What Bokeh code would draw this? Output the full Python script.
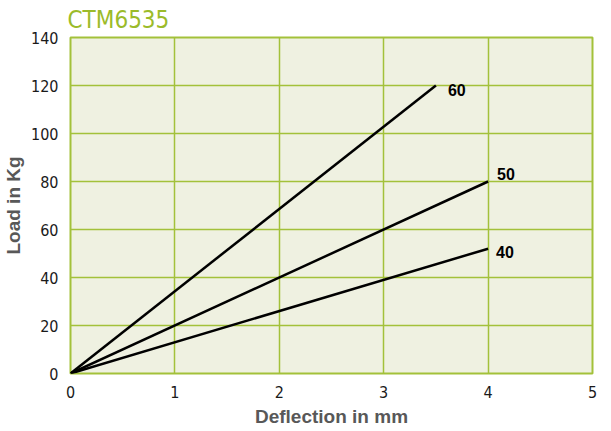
from bokeh.plotting import figure
from bokeh.models import Range1d, FixedTicker, ColumnDataSource
from bokeh.core.properties import value
from bokeh.embed import file_html
from bokeh.resources import INLINE

title_text = "CTM6535"
x_ticks = [0, 1, 2, 3, 4, 5]
y_ticks = [0, 20, 40, 60, 80, 100, 120, 140]

series_names = ["60", "50", "40"]
series_x = [[0, 3.5], [0, 4], [0, 4]]
series_y = [[0, 120], [0, 80], [0, 52]]

GREEN = "#a3c13a"
BG = "#eff1e1"
GRAY = "#585858"
COND = "DejaVu Sans Condensed"

p = figure(frame_width=522, frame_height=336, output_backend="svg",
           toolbar_location=None, x_range=Range1d(0, 5), y_range=Range1d(0, 140),
           min_border_left=61, min_border_right=12, min_border_top=37, min_border_bottom=47)

p.title.text = title_text
p.title.text_color = "#9bbb2a"
p.title.text_font = COND
p.title.text_font_size = "24px"
p.title.text_font_style = "normal"
p.title.offset = -3
p.title.standoff = 7

p.background_fill_color = BG
p.border_fill_color = "white"
p.outline_line_color = GREEN
p.outline_line_width = 2

p.xgrid.ticker = FixedTicker(ticks=x_ticks)
p.ygrid.ticker = FixedTicker(ticks=y_ticks)
p.grid.grid_line_color = GREEN
p.grid.grid_line_width = 1.5

for ax in (p.xaxis[0], p.yaxis[0]):
    ax.axis_line_color = None
    ax.major_tick_line_color = None
    ax.minor_tick_line_color = None
    ax.major_label_text_font = COND
    ax.major_label_text_font_size = "16px"
    ax.major_label_text_color = "#1a1a1a"
    ax.axis_label_text_font = "Liberation Sans"
    ax.axis_label_text_font_style = "bold"
    ax.axis_label_text_font_size = "19px"
    ax.axis_label_text_color = GRAY

p.xaxis.ticker = FixedTicker(ticks=x_ticks)
p.yaxis.ticker = FixedTicker(ticks=y_ticks)
p.xaxis.axis_label = "Deflection in mm"
p.yaxis.axis_label = "Load in Kg"
p.xaxis.major_label_standoff = 6
p.yaxis.major_label_standoff = 6
p.xaxis.axis_label_standoff = 5
p.yaxis.axis_label_standoff = 4

for name, xs, ys in zip(series_names, series_x, series_y):
    p.line(xs, ys, line_color="black", line_width=2.5)

lab_src = ColumnDataSource(dict(x=[xs[-1] for xs in series_x],
                                y=[ys[-1] for ys in series_y],
                                t=series_names,
                                dx=[12, 9, 8], dy=[4, -8, 3]))
p.text(x="x", y="y", text="t", source=lab_src, x_offset="dx", y_offset="dy",
       text_font=value("Liberation Sans"), text_font_style="bold",
       text_font_size="16px", text_color="black", text_baseline="middle", text_align="left")

open("out.html", "w").write(file_html(p, INLINE))
